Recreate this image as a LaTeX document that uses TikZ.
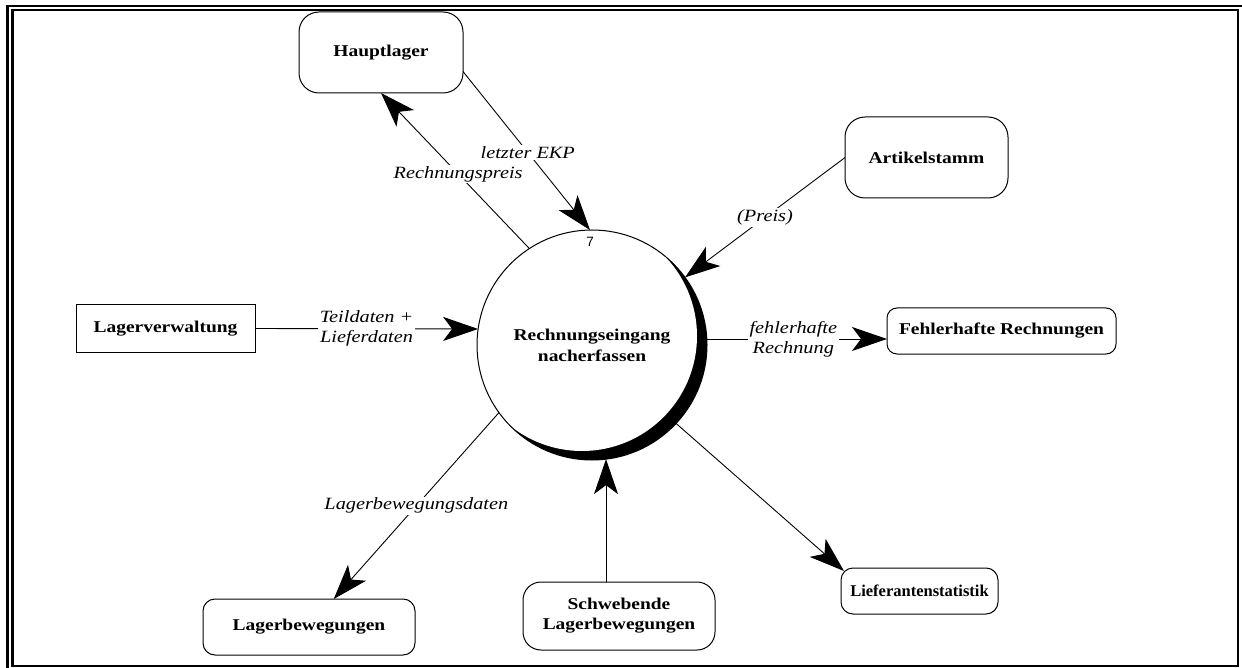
\documentclass[tikz,border=0pt]{standalone}
\usepackage{fontspec}
\setmainfont{Liberation Serif}[FakeStretch=1.18]
\newfontfamily\plainserif{Liberation Serif}
\newfontfamily\digitfont{Liberation Sans}
\usetikzlibrary{arrows.meta,calc}

\begin{document}
\begin{tikzpicture}[x=1pt,y=-1pt,
  >={Stealth[length=35pt,width=24pt,inset=9pt]},
  flow/.style={line width=0.9pt,->},
  store/.style={draw,line width=1pt,rounded corners=#1,align=center,
    font=\fontsize{16.5}{20}\selectfont\bfseries,inner sep=0pt,outer sep=0pt},
  store/.default=12pt,
  lbl/.style={fill=white,inner sep=1.5pt,align=center,
    font=\fontsize{17.2}{20}\selectfont\itshape},
  process/.style={circle,draw,line width=1pt,minimum size=230pt,inner sep=0pt,
    outer sep=0pt,align=center,font=\fontsize{16.5}{21}\selectfont\bfseries}]

\useasboundingbox (0,0) rectangle (1242,668);

% double frame
\draw[line width=2.6pt] (6,6.2) -- (1242,6.2);
\draw[line width=2.6pt] (7.5,5) -- (7.5,668);
\draw[line width=2.6pt] (12.5,10) rectangle (1238,665.8);

% process bubble with its shaded rim
\coordinate (c0) at (592,345);
\begin{scope}
  \clip (c0) circle[radius=115];
  \fill (c0) circle[radius=115];
  \fill[white] ($(c0)+(-10,-9)$) circle[radius=115];
\end{scope}
\node[process] (circ) at (c0) {Rechnungseingang\\nacherfassen};
\node[font=\digitfont\fontsize{13.5}{14}\selectfont,inner sep=0pt] (num) at (590,242) {7};

% stores and terminators
\node[store=20pt,minimum width=164pt,minimum height=81pt] (hl) at (381,52.5) {Hauptlager};
\node[store=20pt,minimum width=163pt,minimum height=81pt] (ar) at (926.5,157.5) {Artikelstamm};
\node[store=0pt,minimum width=179pt,minimum height=47pt] (lv) at (165.5,328.5) {Lagerverwaltung};
\node[store=10pt,minimum width=229pt,minimum height=46pt] (fe) at (1001.5,331) {Fehlerhafte Rechnungen};
\node[store=12pt,minimum width=212pt,minimum height=56pt] (lb) at (309,627) {Lagerbewegungen};
\node[store=18pt,minimum width=192pt,minimum height=68pt] (sb) at (619,616) {Schwebende\\Lagerbewegungen};
\node[store=12pt,minimum width=157pt,minimum height=46pt,
      font=\plainserif\fontsize{16.5}{20}\selectfont\bfseries] (ls) at (919.5,591) {Lieferantenstatistik};

% data flows
\draw[flow] (circ.123) -- node[lbl,pos=0.48] {Rechnungspreis} (hl.south);
\draw[flow] ($(hl.east)+(0,19)$) -- node[lbl,pos=0.51] {letzter EKP} (circ.91);
\draw[flow] (ar.west) -- node[lbl] {(Preis)} (circ.36);
\draw[flow] (lv.east) -- node[lbl] {Teildaten +\\Lieferdaten} (circ.172);
\draw[flow] (circ.3.5) -- node[lbl,pos=0.48] {fehlerhafte\\Rechnung} (circ.3.5 -| fe.west);
\draw[flow] (circ.216.5) -- node[lbl] {Lagerbewegungsdaten} (lb);
\draw[flow] (circ.277.5 |- sb.north) -- (circ.277.5);
\draw[flow] (circ.-43) -- ($(ls.north west)+(3,3)$);

\end{tikzpicture}
\end{document}
